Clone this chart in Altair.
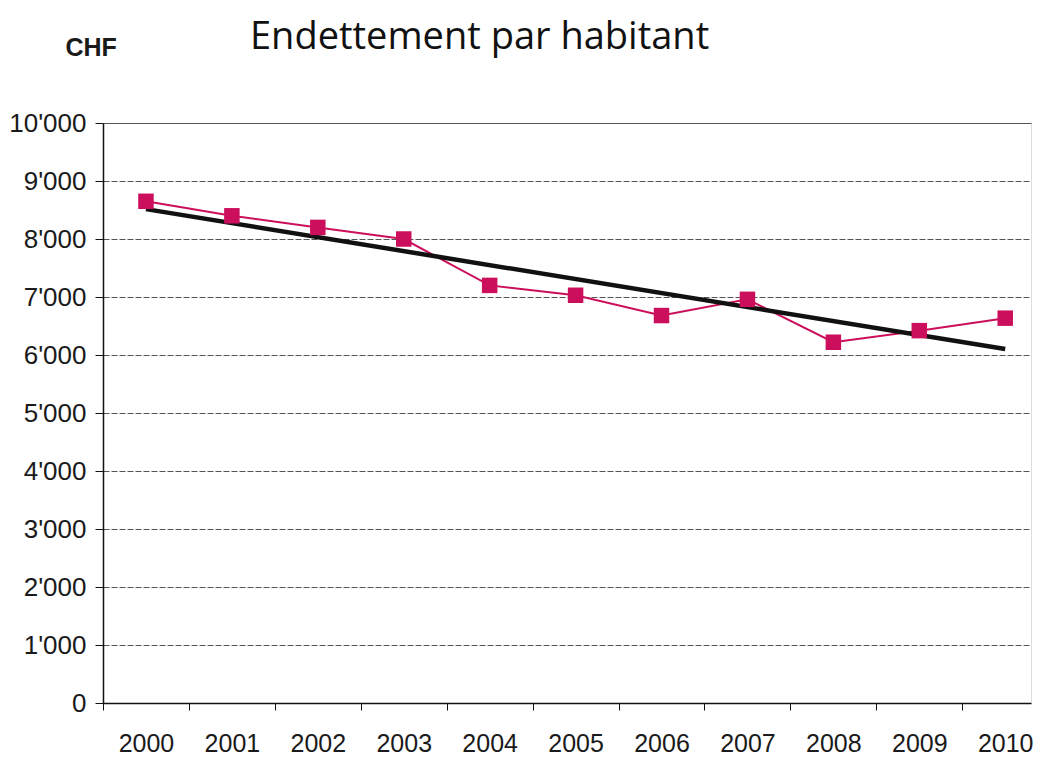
import altair as alt
import pandas as pd

years = [2000, 2001, 2002, 2003, 2004, 2005, 2006, 2007, 2008, 2009, 2010]
debt = [8650, 8400, 8200, 8000, 7200, 7030, 6680, 6960, 6220, 6420, 6635]
y_ticks = [0, 1000, 2000, 3000, 4000, 5000, 6000, 7000, 8000, 9000, 10000]
band_edges = [y - 0.5 for y in years]

df = pd.DataFrame({"year": years, "debt": debt})

W, H = 928, 580
step = W / 10.8

x_enc = alt.X(
    "year:Q",
    scale=alt.Scale(domain=[1999.5, 2010.3], nice=False, zero=False),
    axis=alt.Axis(
        values=band_edges, title=None, grid=False,
        labelExpr="toString(datum.value + 0.5)",
        labelOffset=step / 2, labelFlush=False, labelOverlap=False,
        tickSize=7, labelPadding=21, labelFontSize=25,
        labelFont="Liberation Sans", labelColor="#1a1a1a",
        domainColor="#111111", domainWidth=1.5, tickColor="#111111",
    ),
)

y_enc = alt.Y(
    "debt:Q",
    scale=alt.Scale(domain=[0, 10000], nice=False),
    axis=alt.Axis(
        values=y_ticks,
        labelExpr="replace(format(datum.value, ','), ',', \"'\")",
        labelFontSize=26, labelFont="Liberation Sans", labelColor="#1a1a1a",
        labelPadding=9, tickSize=8, tickColor="#111111",
        domainColor="#111111", domainWidth=1.5,
        grid=True, gridColor="#555555", gridWidth=1,
        gridDash=alt.condition("datum.value == 10000", alt.value([]), alt.value([6, 2])),
        title="CHF", titleAngle=0, titleX=-38, titleY=-76,
        titleAlign="left", titleBaseline="middle",
        titleFontSize=25, titleFont="Liberation Sans", titleFontWeight="bold",
        titleColor="#1a1a1a",
    ),
)

base = alt.Chart(df)

line = base.mark_line(color="#CC0F5C", strokeWidth=2).encode(x=x_enc, y=y_enc)
pts = base.mark_square(color="#CC0F5C", size=240, opacity=1).encode(x=x_enc, y=y_enc)
trend = base.transform_regression("year", "debt").mark_line(
    color="#111111", strokeWidth=4.5
).encode(x=x_enc, y=y_enc)

chart = alt.layer(line, trend, pts).properties(
    width=W, height=H,
    autosize=alt.AutoSizeParams(type="none"),
    padding={"left": 95, "top": 115, "right": 5, "bottom": 56},
    title=alt.Title(
        "Endettement par habitant", anchor="start", frame="group", dx=147, offset=-22,
        fontSize=38, font="Open Sans", fontWeight="normal", color="#111111",
    ),
).configure_view(stroke=None).configure(background="white")

chart.save("out.html", embed_options={"renderer": "svg", "actions": False})
